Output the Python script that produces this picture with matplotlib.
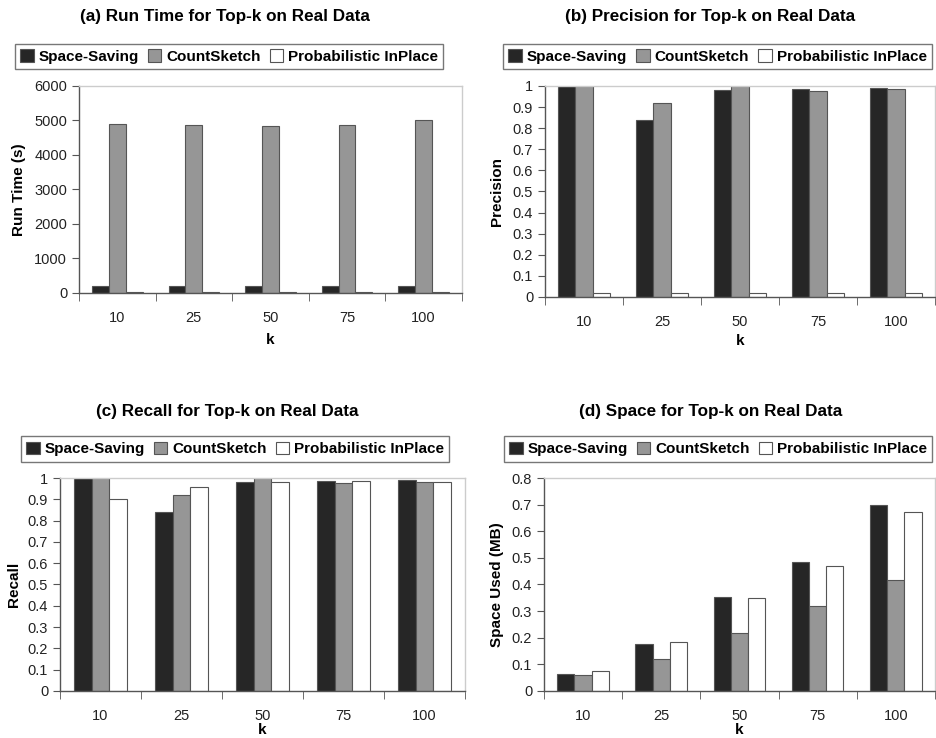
import matplotlib
matplotlib.use("Agg")
import matplotlib.pyplot as plt
from matplotlib.patches import Patch
import numpy as np

plt.rcParams['font.family'] = ['Liberation Sans', 'DejaVu Sans']

k_values = ["10", "25", "50", "75", "100"]
series = ["Space-Saving", "CountSketch", "Probabilistic InPlace"]
colors = ["#262626", "#969696", "#ffffff"]

run_ss = [210, 190, 190, 210, 190]
run_cs = [4910, 4870, 4830, 4870, 5015]
run_ip = [25, 25, 25, 25, 25]

prec_ss = [1.0, 0.84, 0.983, 0.988, 0.992]
prec_cs = [1.0, 0.918, 1.0, 0.975, 0.984]
prec_ip = [0.02, 0.02, 0.02, 0.02, 0.02]

rec_ss = [1.0, 0.84, 0.98, 0.988, 0.99]
rec_cs = [1.0, 0.918, 1.0, 0.975, 0.982]
rec_ip = [0.901, 0.958, 0.981, 0.986, 0.981]

space_ss = [0.065, 0.177, 0.352, 0.483, 0.70]
space_cs = [0.061, 0.120, 0.218, 0.319, 0.418]
space_ip = [0.074, 0.184, 0.349, 0.470, 0.673]

panels = [
    dict(title="(a) Run Time for Top-k on Real Data", ylabel="Run Time (s)",
         data=[run_ss, run_cs, run_ip], ylim=6000, yticks=np.arange(0, 6001, 1000),
         fmt="{:.0f}", pos=[0.0844, 0.603, 0.409, 0.2805], ylx=-0.138, xly=-0.193,
         leg=(0.2447, 0.9234), tit=(0.2404, 0.977)),
    dict(title="(b) Precision for Top-k on Real Data", ylabel="Precision",
         data=[prec_ss, prec_cs, prec_ip], ylim=1, yticks=np.arange(0, 1.01, 0.1),
         fmt="{:g}", pos=[0.5823, 0.5976, 0.4167, 0.2859], ylx=-0.105, xly=-0.175,
         leg=(0.7666, 0.9234), tit=(0.7585, 0.977)),
    dict(title="(c) Recall for Top-k on Real Data", ylabel="Recall",
         data=[rec_ss, rec_cs, rec_ip], ylim=1, yticks=np.arange(0, 1.01, 0.1),
         fmt="{:g}", pos=[0.0641, 0.0637, 0.4327, 0.2886], ylx=-0.096, xly=-0.152,
         leg=(0.2511, 0.3916), tit=(0.2425, 0.443)),
    dict(title="(d) Space for Top-k on Real Data", ylabel="Space Used (MB)",
         data=[space_ss, space_cs, space_ip], ylim=0.8, yticks=np.arange(0, 0.81, 0.1),
         fmt="{:g}", pos=[0.5812, 0.0637, 0.4177, 0.2886], ylx=-0.102, xly=-0.152,
         leg=(0.7671, 0.3916), tit=(0.7596, 0.443)),
]

fig = plt.figure(figsize=(9.36, 7.38), dpi=100)
x = np.arange(len(k_values))
w = 0.22

for p in panels:
    ax = fig.add_axes(p["pos"])
    for i, vals in enumerate(p["data"]):
        ax.bar(x + (i - 1) * w, vals, w, color=colors[i], edgecolor="#555555",
               linewidth=0.8, zorder=2)
    ax.set_xlim(-0.5, len(k_values) - 0.5)
    ax.set_ylim(0, p["ylim"])
    ax.set_yticks(p["yticks"])
    ax.set_yticklabels([p["fmt"].format(round(v, 1)) for v in p["yticks"]])
    ax.set_xticks(x)
    ax.set_xticklabels(k_values)
    ax.set_xticks(np.arange(-0.5, len(k_values)), minor=True)
    ax.tick_params(axis="x", which="major", length=0, pad=13, labelsize=10.5,
                   labelcolor="#222222")
    ax.tick_params(axis="x", which="minor", length=6, direction="out", color="#555555")
    ax.tick_params(axis="y", length=5, direction="out", color="#555555", labelsize=10.5,
                   labelcolor="#222222")
    for s in ["left", "bottom"]:
        ax.spines[s].set_color("#555555")
        ax.spines[s].set_linewidth(1.0)
    for s in ["top", "right"]:
        ax.spines[s].set_color("#cccccc")
        ax.spines[s].set_linewidth(1.0)
    ax.set_ylabel(p["ylabel"], fontsize=11, fontweight="bold")
    ax.yaxis.set_label_coords(p["ylx"], 0.5)
    ax.set_xlabel("k", fontsize=11, fontweight="bold")
    ax.xaxis.set_label_coords(0.5, p["xly"])
    fig.text(p["tit"][0], p["tit"][1], p["title"], ha="center", va="center",
             fontsize=12.3, fontweight="bold")
    handles = [Patch(facecolor=colors[i], edgecolor="#555555", linewidth=0.8)
               for i in range(3)]
    leg = ax.legend(handles, series, ncol=3, loc="center",
                    bbox_to_anchor=p["leg"], bbox_transform=fig.transFigure,
                    fancybox=False, edgecolor="#777777", framealpha=1,
                    handlelength=0.9, handleheight=0.9, handletextpad=0.3,
                    columnspacing=0.6, borderpad=0.35,
                    prop=dict(size=11, weight="bold"))
    leg.get_frame().set_linewidth(1.0)

fig.savefig("out.png", dpi=100)
